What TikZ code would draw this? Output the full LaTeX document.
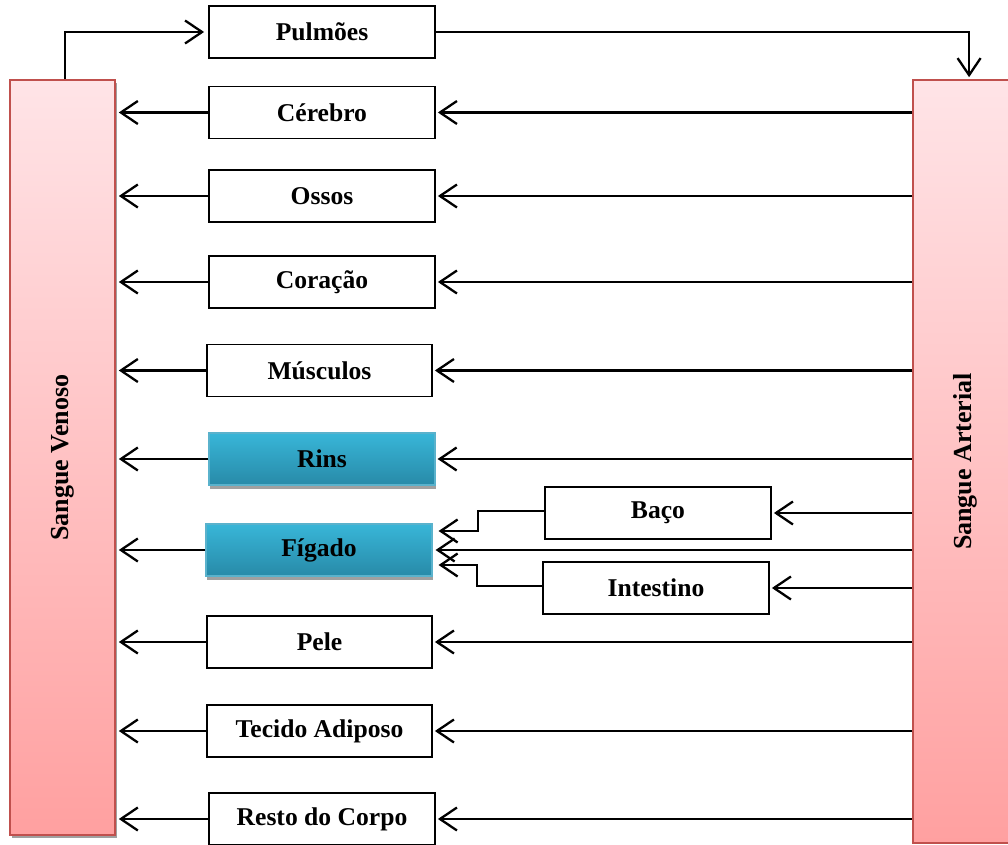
\documentclass[tikz,border=0pt]{standalone}
\usepackage{fontspec}
\setmainfont{Liberation Serif}
\usepackage{tikz}
\usetikzlibrary{arrows.meta, positioning, calc, shadows}
\definecolor{mydark}{RGB}{0,0,0}
\definecolor{pinktop}{RGB}{255,228,231}
\definecolor{pinkbot}{RGB}{255,160,160}
\definecolor{pinkframe}{RGB}{192,80,77}
\definecolor{bluetop}{RGB}{56,182,216}
\definecolor{bluebot}{RGB}{40,138,168}
\definecolor{blueframe}{RGB}{90,178,204}
\definecolor{shadowgrey}{RGB}{160,160,160}
\tikzset{
  organ/.style={rectangle, draw=mydark, fill=white,
    minimum width=113pt, minimum height=26pt, inner sep=0pt,
    font=\bfseries\fontsize{12.8}{15}\selectfont, line width=0.9pt},
  blueorgan/.style={organ, draw=blueframe, line width=0.6pt,
    top color=bluetop, bottom color=bluebot,
    drop shadow={shadow xshift=0.3pt, shadow yshift=-1.8pt, fill=shadowgrey, opacity=1}},
  bloodbar/.style={rectangle, draw=pinkframe, line width=0.8pt,
    top color=pinktop, bottom color=pinkbot,
    minimum width=52.5pt, inner sep=0pt},
  barlabel/.style={rotate=90, font=\bfseries\fontsize{13}{15}\selectfont},
  arrow/.style={-{Straight Barb[length=8.5pt, width=11.5pt]}, line width=1.15pt, color=mydark},
  line/.style={line width=1.15pt, color=mydark}
}
\begin{document}
\begin{tikzpicture}[x=0.5pt, y=-0.5pt]
  \useasboundingbox (0,0) rectangle (1008,845);

  % Blood columns
  \node[bloodbar, minimum height=377.5pt,
    drop shadow={shadow xshift=0.8pt, shadow yshift=-1.5pt, fill=shadowgrey, opacity=1}] (ven) at (62.5,457.5) {};
  \node[barlabel] (venTxt) at (ven.center) {Sangue Venoso};
  \node[bloodbar, minimum height=381.5pt] (art) at (965.5,461.5) {};
  \node[barlabel] (artTxt) at (art.center) {Sangue Arterial};

  % Organs
  \node[organ] (pul) at (322,32) {Pulmões};
  \node[organ] (cer) at (322,112.5) {Cérebro};
  \node[organ] (oss) at (322,196) {Ossos};
  \node[organ] (cor) at (322,282) {Coração};
  \node[organ, minimum width=112.5pt] (mus) at (319.5,370.5) {Músculos};
  \node[blueorgan] (rin) at (322,459) {Rins};
  \node[blueorgan] (fig) at (319,550) {Fígado};
  \node[organ] (bac) at (658,513) {Baço};
  \node[organ] (int) at (656,588) {Intestino};
  \node[organ, minimum width=112.5pt] (pel) at (319.5,642) {Pele};
  \node[organ, minimum width=112.5pt] (tec) at (319.5,731) {Tecido Adiposo};
  \node[organ] (res) at (322,819) {Resto do Corpo};

  % Lung circuit
  \draw[arrow, shorten >=2pt] ([xshift=1.3pt]ven.north) |- (pul.west);
  \draw[arrow, shorten >=1pt] (pul.east) -| ([xshift=1.8pt]art.north);

  % Arterial side
  \draw[arrow, shorten >=1pt] (cer.east -| art.west) -- (cer.east);
  \draw[arrow, shorten >=1pt] (oss.east -| art.west) -- (oss.east);
  \draw[arrow, shorten >=1pt] (cor.east -| art.west) -- (cor.east);
  \draw[arrow, shorten >=1pt] (mus.east -| art.west) -- (mus.east);
  \draw[arrow, shorten >=1pt] (rin.east -| art.west) -- (rin.east);
  \draw[arrow, shorten >=1.5pt] (fig.east -| art.west) -- (fig.east);
  \draw[arrow, shorten >=1pt] (bac.east -| art.west) -- (bac.east);
  \draw[arrow, shorten >=1pt] (int.east -| art.west) -- (int.east);
  \draw[arrow, shorten >=1pt] (pel.east -| art.west) -- (pel.east);
  \draw[arrow, shorten >=1pt] (tec.east -| art.west) -- (tec.east);
  \draw[arrow, shorten >=1pt] (res.east -| art.west) -- (res.east);

  % Portal flow into the liver
  \draw[arrow] ([yshift=1pt]bac.west) -- ++(-66,0) |- ([xshift=3pt, yshift=9.5pt]fig.east);
  \draw[arrow] ([yshift=1pt]int.west) -- ++(-65,0) |- ([xshift=3pt, yshift=-7.5pt]fig.east);

  % Venous side
  \draw[arrow, shorten >=1.5pt] (cer.west) -- (cer.west -| ven.east);
  \draw[arrow, shorten >=1.5pt] (oss.west) -- (oss.west -| ven.east);
  \draw[arrow, shorten >=1.5pt] (cor.west) -- (cor.west -| ven.east);
  \draw[arrow, shorten >=1.5pt] (mus.west) -- (mus.west -| ven.east);
  \draw[arrow, shorten >=1.5pt] (rin.west) -- (rin.west -| ven.east);
  \draw[arrow, shorten >=1.5pt] (fig.west) -- (fig.west -| ven.east);
  \draw[arrow, shorten >=1.5pt] (pel.west) -- (pel.west -| ven.east);
  \draw[arrow, shorten >=1.5pt] (tec.west) -- (tec.west -| ven.east);
  \draw[arrow, shorten >=1.5pt] (res.west) -- (res.west -| ven.east);

\end{tikzpicture}
\end{document}
